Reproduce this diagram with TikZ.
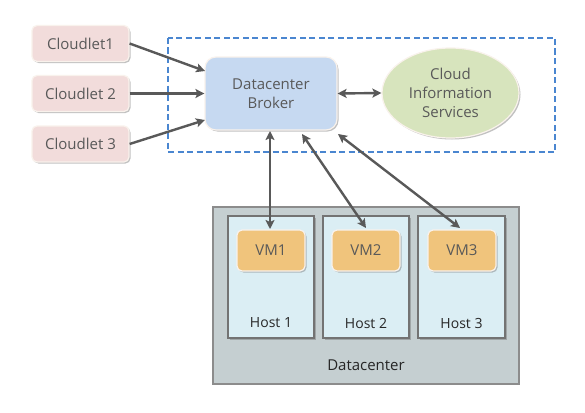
\documentclass[tikz,border=0pt]{standalone}
\usepackage{fontspec}
\setmainfont{Open Sans}
\usetikzlibrary{shapes.geometric,arrows.meta,shadows}
\definecolor{txt}{HTML}{595959}
\definecolor{arr}{HTML}{595959}
\definecolor{cloudletfill}{HTML}{F2DCDB}
\definecolor{brokerfill}{HTML}{C6D9F1}
\definecolor{cisfill}{HTML}{D7E4BD}
\definecolor{dcfill}{HTML}{C5CFD1}
\definecolor{hostfill}{HTML}{DBEEF4}
\definecolor{vmfill}{HTML}{F0C47C}
\definecolor{dashblue}{HTML}{4A86D0}
\begin{document}
\begin{tikzpicture}[x=1pt,y=-1pt,
  sh/.style={drop shadow={shadow xshift=1.5pt,shadow yshift=-1.5pt,opacity=0.4,fill=black!60}},
  cloudlet/.style={draw=white!90!brown,line width=1.2pt,fill=cloudletfill,rounded corners=5pt,minimum width=97pt,minimum height=36pt,text=txt,font=\fontsize{15}{17}\selectfont,sh},
  broker/.style={draw=white!90!brown,line width=1.2pt,fill=brokerfill,rounded corners=11pt,minimum width=132pt,minimum height=73pt,text=txt,font=\fontsize{15}{19}\selectfont,align=center,sh},
  cis/.style={ellipse,draw=white!90!brown,line width=1.2pt,fill=cisfill,minimum width=137pt,minimum height=90pt,inner sep=0pt,text=txt,font=\fontsize{15}{19}\selectfont,align=center,sh},
  dc/.style={draw=black!45,line width=1.3pt,fill=dcfill},
  host/.style={draw=black!55,line width=2pt,fill=hostfill,sh},
  vm/.style={draw=white!90!brown,line width=1.2pt,fill=vmfill,rounded corners=5pt,minimum width=68pt,minimum height=41pt,text=txt,font=\fontsize{15}{17}\selectfont,sh},
  lbl/.style={text=black!85,font=\fontsize{14}{16}\selectfont},
  conn/.style={draw=arr,line width=2.4pt,-{Stealth[length=9pt,width=9pt,inset=2pt]}},
  dconn/.style={draw=arr,line width=2.4pt,{Stealth[length=9pt,width=9pt,inset=2pt]}-{Stealth[length=9pt,width=9pt,inset=2pt]}}
]
\useasboundingbox (0,0) rectangle (585,412);
\fill[white] (0,0) rectangle (585,412);
% dashed group
\draw[dashblue,line width=1.5pt,dash pattern=on 6pt off 3.5pt] (168,38) rectangle (555,152);
% datacenter
\node[dc,minimum width=306pt,minimum height=177pt,inner sep=0pt] (dc) at (366,295.5) {};
\node[lbl,font=\fontsize{15}{17}\selectfont] (dclbl) at (366,365) {Datacenter};
% hosts
\node[host,minimum width=86pt,minimum height=122pt] (h1) at (271,277) {};
\node[host,minimum width=86pt,minimum height=122pt] (h2) at (366,277) {};
\node[host,minimum width=87pt,minimum height=122pt] (h3) at (461.5,277) {};
\node[lbl] (h1l) at (271,323) {Host 1};
\node[lbl] (h2l) at (366,323) {Host 2};
\node[lbl] (h3l) at (461.5,323) {Host 3};
% VMs
\node[vm] (vm1) at (271,250.5) {VM1};
\node[vm] (vm2) at (366,250.5) {VM2};
\node[vm] (vm3) at (462,250.5) {VM3};
% cloudlets
\node[cloudlet] (c1) at (80.5,43.5) {Cloudlet1};
\node[cloudlet] (c2) at (80.5,93.5) {Cloudlet 2};
\node[cloudlet] (c3) at (80.5,144) {Cloudlet 3};
% broker
\node[broker] (br) at (271,93.5) {Datacenter\\Broker};
% CIS
\node[cis] (cis) at (450.5,93) {Cloud\\Information\\Services};
% connectors
\coordinate (b1) at (205,71);
\coordinate (b3) at (205,120);
\draw[conn] (c1.east) -- (b1);
\draw[conn] (c2.east) -- (br.west);
\draw[conn] (c3.east) -- (b3);
\draw[dconn] (br.east) -- (cis.west);
\coordinate (bv1) at (270,131);
\coordinate (bv2) at (302,134);
\coordinate (bv3) at (338,134);
\coordinate (tv1) at (270,229);
\coordinate (tv2) at (366,228);
\coordinate (tv3) at (460,228);
\draw[dconn] (bv1) -- (tv1);
\draw[dconn] (bv2) -- (tv2);
\draw[dconn] (bv3) -- (tv3);
\end{tikzpicture}
\end{document}
